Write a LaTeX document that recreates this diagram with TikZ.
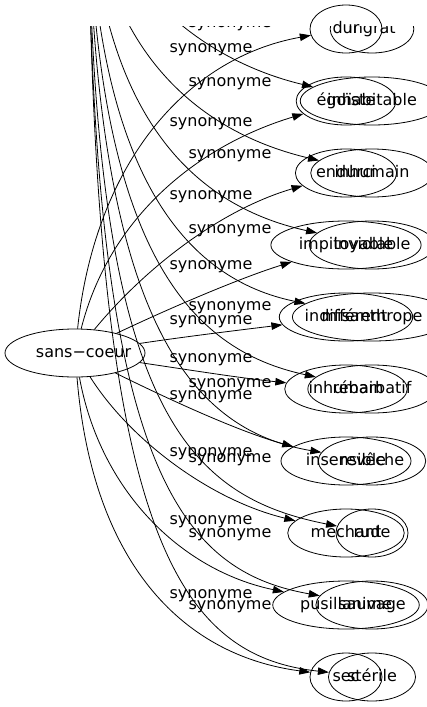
\documentclass[tikz,border=0pt]{standalone}
\usepackage{fontspec}
\setmainfont{DejaVu Sans}
\usetikzlibrary{shapes,arrows.meta}

\newcommand{\wordfont}{\fontsize{16pt}{19pt}\selectfont}

\begin{document}
\begin{tikzpicture}
[x=1pt, y=-1pt, line width=0.8pt,
  myword/.style={ellipse, draw=black, minimum width=72pt, minimum height=48pt, inner xsep=5.9pt, inner ysep=0pt, text height=11pt, text depth=3pt, font=\wordfont},
  mysource/.style={ellipse, draw=black, minimum width=140pt, minimum height=48pt},
  mylabel/.style={inner sep=0pt, text height=11pt, text depth=3pt, font=\wordfont},
  myedge/.style={draw=black, -{Triangle[length=11pt, width=7.5pt]}}
]
  \path[use as bounding box, clip] (0,0) rectangle (427,707);

  \node[mysource] (coeur) at (75,353) [label={[mylabel, xshift=8.5pt]center:sans−coeur}]{};

  % first set of synonyms
  \node[myword] (dur) at (346,29) {dur};
  \node[myword] (egoiste) at (346,101) {égoïste};
  \node[myword] (endurci) at (346,173) {endurci};
  \node[myword] (impitoyable) at (346,245) {impitoyable};
  \node[myword] (indifferent) at (346,317) {indifférent};
  \node[myword] (inhumain) at (346,389) {inhumain};
  \node[myword] (insensible) at (346,461) {insensible};
  \node[myword] (mechant) at (346,533) {méchant};
  \node[myword] (pusillanime) at (346,605) {pusillanime};
  \node[myword] (sec) at (346,677) {sec};

  \node[mylabel] (ldur) at (211,48) {synonyme};
  \node[mylabel] (legoiste) at (211,122) {synonyme};
  \node[mylabel] (lendurci) at (211,195) {synonyme};
  \node[mylabel] (limpitoyable) at (211,265) {synonyme};
  \node[mylabel] (lindifferent) at (211,320) {synonyme};
  \node[mylabel] (linhumain) at (211,358) {synonyme};
  \node[mylabel] (linsensible) at (211,395) {synonyme};
  \node[mylabel] (lmechant) at (211,452) {synonyme};
  \node[mylabel] (lpusillanime) at (211,520) {synonyme};
  \node[mylabel] (lsec) at (211,594) {synonyme};

  \draw[myedge] (coeur) .. controls (95,165) and (185,58) .. (dur);
  \draw[myedge] (coeur) .. controls (110,215) and (200,145) .. (egoiste);
  \draw[myedge] (coeur) .. controls (145,268) and (220,210) .. (endurci);
  \draw[myedge] (coeur) .. controls (170,308) and (240,278) .. (impitoyable);
  \draw[myedge] (coeur) .. controls (190,336) and (240,330) .. (indifferent);
  \draw[myedge] (coeur) .. controls (190,370) and (240,378) .. (inhumain);
  \draw[myedge] (coeur) .. controls (170,400) and (240,432) .. (insensible);
  \draw[myedge] (coeur) .. controls (130,440) and (210,500) .. (mechant);
  \draw[myedge] (coeur) .. controls (100,490) and (180,570) .. (pusillanime);
  \draw[myedge] (coeur) .. controls (92,560) and (180,655) .. (sec);

  % second set, cut off at the top
  \begin{scope}
    \clip (0,26) rectangle (427,707);
    \coordinate (coeurtop) at (88,-150);

    \node[myword] (ingrat) at (372,29) {ingrat};
    \node[myword] (inhabitable) at (372,101) {inhabitable};
    \node[myword] (inhumaintwo) at (372,173) {inhumain};
    \node[myword] (inviolable) at (372,245) {inviolable};
    \node[myword] (misanthrope) at (372,317) {misanthrope};
    \node[myword] (rebarbatif) at (372,389) {rébarbatif};
    \node[myword] (reveche) at (372,461) {revêche};
    \node[myword] (rude) at (372,533) {rude};
    \node[myword] (sauvage) at (372,605) {sauvage};
    \node[myword] (sterile) at (372,677) {stérile};

    \node[mylabel] (linhabitable) at (230,23) {synonyme};
    \node[mylabel] (linhumaintwo) at (230,82) {synonyme};
    \node[mylabel] (linviolable) at (230,154) {synonyme};
    \node[mylabel] (lmisanthrope) at (230,229) {synonyme};
    \node[mylabel] (lrebarbatif) at (230,306) {synonyme};
    \node[mylabel] (lreveche) at (230,383) {synonyme};
    \node[mylabel] (lrude) at (230,458) {synonyme};
    \node[mylabel] (lsauvage) at (230,533) {synonyme};
    \node[mylabel] (lsterile) at (230,605) {synonyme};

    \draw[myedge] (coeurtop) .. controls (100,-20) and (200,60) .. (inhabitable);
    \draw[myedge] (coeurtop) .. controls (92,40) and (190,130) .. (inhumaintwo);
    \draw[myedge] (coeurtop) .. controls (90,110) and (190,205) .. (inviolable);
    \draw[myedge] (coeurtop) .. controls (88,180) and (190,280) .. (misanthrope);
    \draw[myedge] (coeurtop) .. controls (88,250) and (190,350) .. (rebarbatif);
    \draw[myedge] (coeurtop) .. controls (88,320) and (190,430) .. (reveche);
    \draw[myedge] (coeurtop) .. controls (88,400) and (180,495) .. (rude);
    \draw[myedge] (coeurtop) .. controls (88,460) and (175,570) .. (sauvage);
    \draw[myedge] (coeurtop) .. controls (90,520) and (170,655) .. (sterile);
  \end{scope}
\end{tikzpicture}
\end{document}
